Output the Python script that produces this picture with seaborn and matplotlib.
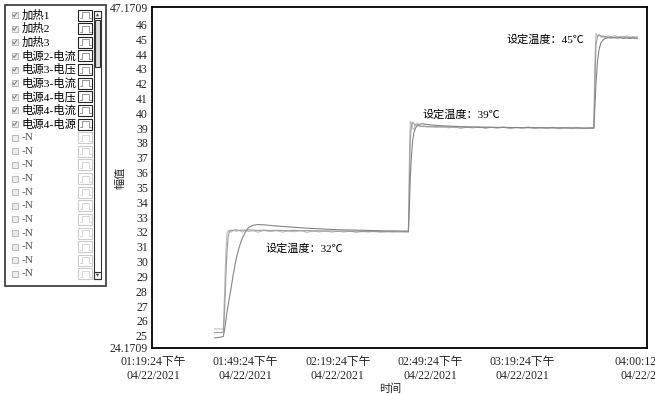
import pandas as pd
import matplotlib.pyplot as plt
import matplotlib.patches as mpatches
import seaborn as sns

# time axis in minutes after 01:19:24 PM
minutes = [19.9, 21.0, 22.0, 22.8, 23.2, 23.6, 24.0, 24.4, 24.8, 25.4, 26.0, 27.0, 28.0, 29.0, 30.0, 31.0, 32.5, 34.0, 36.0, 38.0, 40.0,
           42, 44, 46, 48, 50, 52, 54, 56, 58, 60, 62, 64, 66, 68, 70, 72, 74, 76, 78, 80, 82,
           83.0, 83.3, 83.6, 84.0, 84.4, 84.8, 85.3, 85.8, 86.5, 87.3, 88.0, 89.0, 90.0,
           92, 94, 96, 98, 100, 102, 104, 106, 108, 110, 112, 114, 116, 118, 120, 122, 124, 126, 128, 130, 132, 134, 136, 138, 140, 142,
           143.3, 143.6, 144.0, 144.5, 145.0, 145.6, 146.3, 147.0, 148, 149, 150, 151, 152, 153, 154, 155, 156, 157.5]

heat1 = [25.45, 25.46, 25.45, 25.47, 27.8, 30.6, 31.9, 32.1, 32.05, 31.98, 32.12, 32.04, 32.1, 31.99, 32.11, 32.03, 32.09, 31.98, 32.1, 32.02, 32.08,
         31.99, 32.07, 32.01, 32.1, 31.97, 32.06, 32.0, 32.09, 31.98, 32.05, 31.99, 32.06, 31.96, 32.04, 31.99, 32.05, 31.97, 32.03, 31.98, 32.04, 31.99,
         32.0, 36.8, 39.45, 39.35, 39.0, 38.9, 39.25, 39.35, 39.2, 39.1, 39.18, 39.06, 39.14,
         39.05, 39.12, 39.02, 39.09, 38.98, 39.08, 39.01, 39.1, 38.97, 39.06, 39.0, 39.08, 38.96, 39.05, 38.99, 39.07, 38.97, 39.04, 39.0, 39.06, 38.96, 39.03, 38.99, 39.05, 38.97, 39.02,
         39.0, 43.2, 45.4, 45.15, 45.32, 45.12, 45.25, 45.08, 45.22, 45.1, 45.26, 45.12, 45.2, 45.06, 45.24, 45.1, 45.18, 45.08]

heat2 = [25.2, 25.22, 25.21, 25.24, 26.6, 28.9, 30.7, 31.7, 32.05, 32.12, 32.1, 32.14, 32.1, 32.13, 32.11, 32.14, 32.12, 32.1, 32.12, 32.09, 32.11,
         32.1, 32.08, 32.11, 32.07, 32.09, 32.06, 32.08, 32.05, 32.07, 32.04, 32.06, 32.03, 32.05, 32.02, 32.04, 32.02, 32.03, 32.01, 32.03, 32.0, 32.02,
         32.01, 35.0, 38.3, 39.2, 39.4, 39.3, 39.2, 39.22, 39.15, 39.12, 39.1, 39.12, 39.08,
         39.1, 39.07, 39.09, 39.06, 39.08, 39.05, 39.07, 39.04, 39.06, 39.05, 39.03, 39.05, 39.02, 39.04, 39.03, 39.05, 39.02, 39.04, 39.01, 39.03, 39.02, 39.04, 39.01, 39.03, 39.0, 39.02,
         39.01, 41.5, 44.6, 45.2, 45.3, 45.22, 45.15, 45.18, 45.12, 45.16, 45.1, 45.15, 45.12, 45.17, 45.1, 45.14, 45.12, 45.15]

heat3 = [24.85, 24.88, 24.9, 24.95, 25.4, 26.0, 26.6, 27.1, 27.6, 28.3, 29.1, 30.2, 31.0, 31.6, 32.0, 32.3, 32.45, 32.5, 32.48, 32.44, 32.4,
         32.37, 32.34, 32.31, 32.28, 32.25, 32.23, 32.21, 32.19, 32.17, 32.15, 32.14, 32.13, 32.12, 32.11, 32.1, 32.09, 32.08, 32.07, 32.07, 32.06, 32.06,
         32.06, 33.6, 35.6, 37.2, 38.2, 38.7, 39.0, 39.15, 39.25, 39.3, 39.28, 39.25, 39.22,
         39.19, 39.16, 39.14, 39.12, 39.1, 39.09, 39.08, 39.07, 39.06, 39.06, 39.05, 39.05, 39.04, 39.04, 39.03, 39.03, 39.03, 39.02, 39.02, 39.02, 39.01, 39.01, 39.01, 39.0, 39.0, 39.0,
         39.0, 40.2, 42.0, 43.5, 44.3, 44.75, 44.95, 45.05, 45.1, 45.08, 45.1, 45.07, 45.09, 45.06, 45.08, 45.05, 45.07, 45.06]

series_names = ['加热1', '加热2', '加热3']
series_colors = ['#bdbdbd', '#9c9c9c', '#858585']

x_ticks = [0, 30, 60, 90, 120, 150, 160.6]
x_labels = ['01:19:24下午\n04/22/2021', '01:49:24下午\n04/22/2021', '02:19:24下午\n04/22/2021',
            '02:49:24下午\n04/22/2021', '03:19:24下午\n04/22/2021', '', '04:00:12下午\n04/22/2021']
y_min, y_max = 24.1709, 47.1709

notes = ['设定温度：32℃', '设定温度：39℃', '设定温度：45℃']
note_x = [36.5, 87.6, 114.8]
note_y = [30.85, 39.9, 44.95]

legend_labels = ['加热1', '加热2', '加热3', '电源2-电流', '电源3-电压', '电源3-电流',
                 '电源4-电压', '电源4-电流', '电源4-电源'] + ['-N'] * 11
legend_checked = [True] * 9 + [False] * 11

sns.set_style('white')
plt.rcParams['font.family'] = ['Liberation Serif', 'Noto Sans CJK SC']
plt.rcParams['axes.unicode_minus'] = False

df = pd.DataFrame({
    't': minutes * 3,
    'v': heat1 + heat2 + heat3,
    'name': [n for n in series_names for _ in minutes],
})

fig = plt.figure(figsize=(6.55, 3.94), dpi=100)

# left channel list panel (pixel coordinates)
lax = fig.add_axes([0, 0, 1, 1], zorder=0)
lax.set_xlim(0, 655)
lax.set_ylim(394, 0)
lax.axis('off')
lax.add_patch(mpatches.Rectangle((5, 5), 101, 281, fill=False, ec='#333333', lw=1.2))
for i, (lab, chk) in enumerate(zip(legend_labels, legend_checked)):
    yc = 15 + i * 13.63
    lax.add_patch(mpatches.Rectangle((11.5, yc - 3), 6, 6, fc='#ececec', ec='#b0b0b0', lw=0.6))
    if chk:
        lax.plot([12.8, 14.3, 16.6], [yc - 0.2, yc + 1.6, yc - 2.0], color='#777777', lw=0.7)
    lax.text(22, yc, lab, fontsize=8.2, va='center', ha='left',
             color='black' if chk else '#555555')
    lax.add_patch(mpatches.Rectangle((78, yc - 5.5), 14, 11, fill=False,
                                     ec='#222222' if chk else '#cccccc', lw=0.8))
    lax.plot([79.5, 82, 82, 88.5, 88.5, 91], [yc + 3, yc + 3, yc - 3, yc - 3, yc + 3, yc + 3],
             color='#888888' if chk else '#d0d0d0', lw=0.6)
# scrollbar
lax.add_patch(mpatches.Rectangle((94, 11), 7, 268, fill=False, ec='#333333', lw=0.8))
lax.add_patch(mpatches.Rectangle((94, 11), 7, 7, fill=False, ec='#333333', lw=0.8))
lax.add_patch(mpatches.Rectangle((94, 272), 7, 7, fill=False, ec='#333333', lw=0.8))
lax.add_patch(mpatches.Polygon([(95.8, 16.3), (97.5, 13), (99.2, 16.3)], closed=True, fc='#555555', ec='none'))
lax.add_patch(mpatches.Polygon([(95.8, 273.7), (97.5, 277), (99.2, 273.7)], closed=True, fc='#555555', ec='none'))
lax.add_patch(mpatches.Rectangle((95.2, 20), 4.6, 47, fc='#dddddd', ec='#333333', lw=0.8))

# main chart
ax = fig.add_axes([152 / 655, 46 / 394, 495 / 655, 341 / 394], zorder=1)
sns.lineplot(data=df, x='t', y='v', hue='name', palette=series_colors,
             linewidth=0.8, legend=False, ax=ax)
ax.set_xlim(-0.4, 160.6)
ax.set_ylim(y_min, y_max)
ax.set_xticks(x_ticks)
ax.set_xticklabels(x_labels, fontsize=8.5)
ax.set_yticks([y_min] + list(range(25, 47)) + [y_max])
ax.set_yticklabels(['24.1709'] + [str(v) for v in range(25, 47)] + ['47.1709'], fontsize=8.5)
ax.tick_params(direction='in', length=4, width=1, color='black', pad=3)
ax.tick_params(axis='x', pad=6)
for sp in ax.spines.values():
    sp.set_color('black')
    sp.set_linewidth(1.3)

ax.set_xlabel('时间', fontsize=8)
ax.xaxis.set_label_coords(0.481, -0.103)
ax.xaxis.label.set_va('top')
ax.set_ylabel('幅值', fontsize=8)
ax.yaxis.set_label_coords(-0.0545, 0.5)

for txt, tx, ty in zip(notes, note_x, note_y):
    ax.text(tx, ty, txt, fontsize=8, ha='left', va='center', color='black')

fig.savefig('out.png', dpi=100)
